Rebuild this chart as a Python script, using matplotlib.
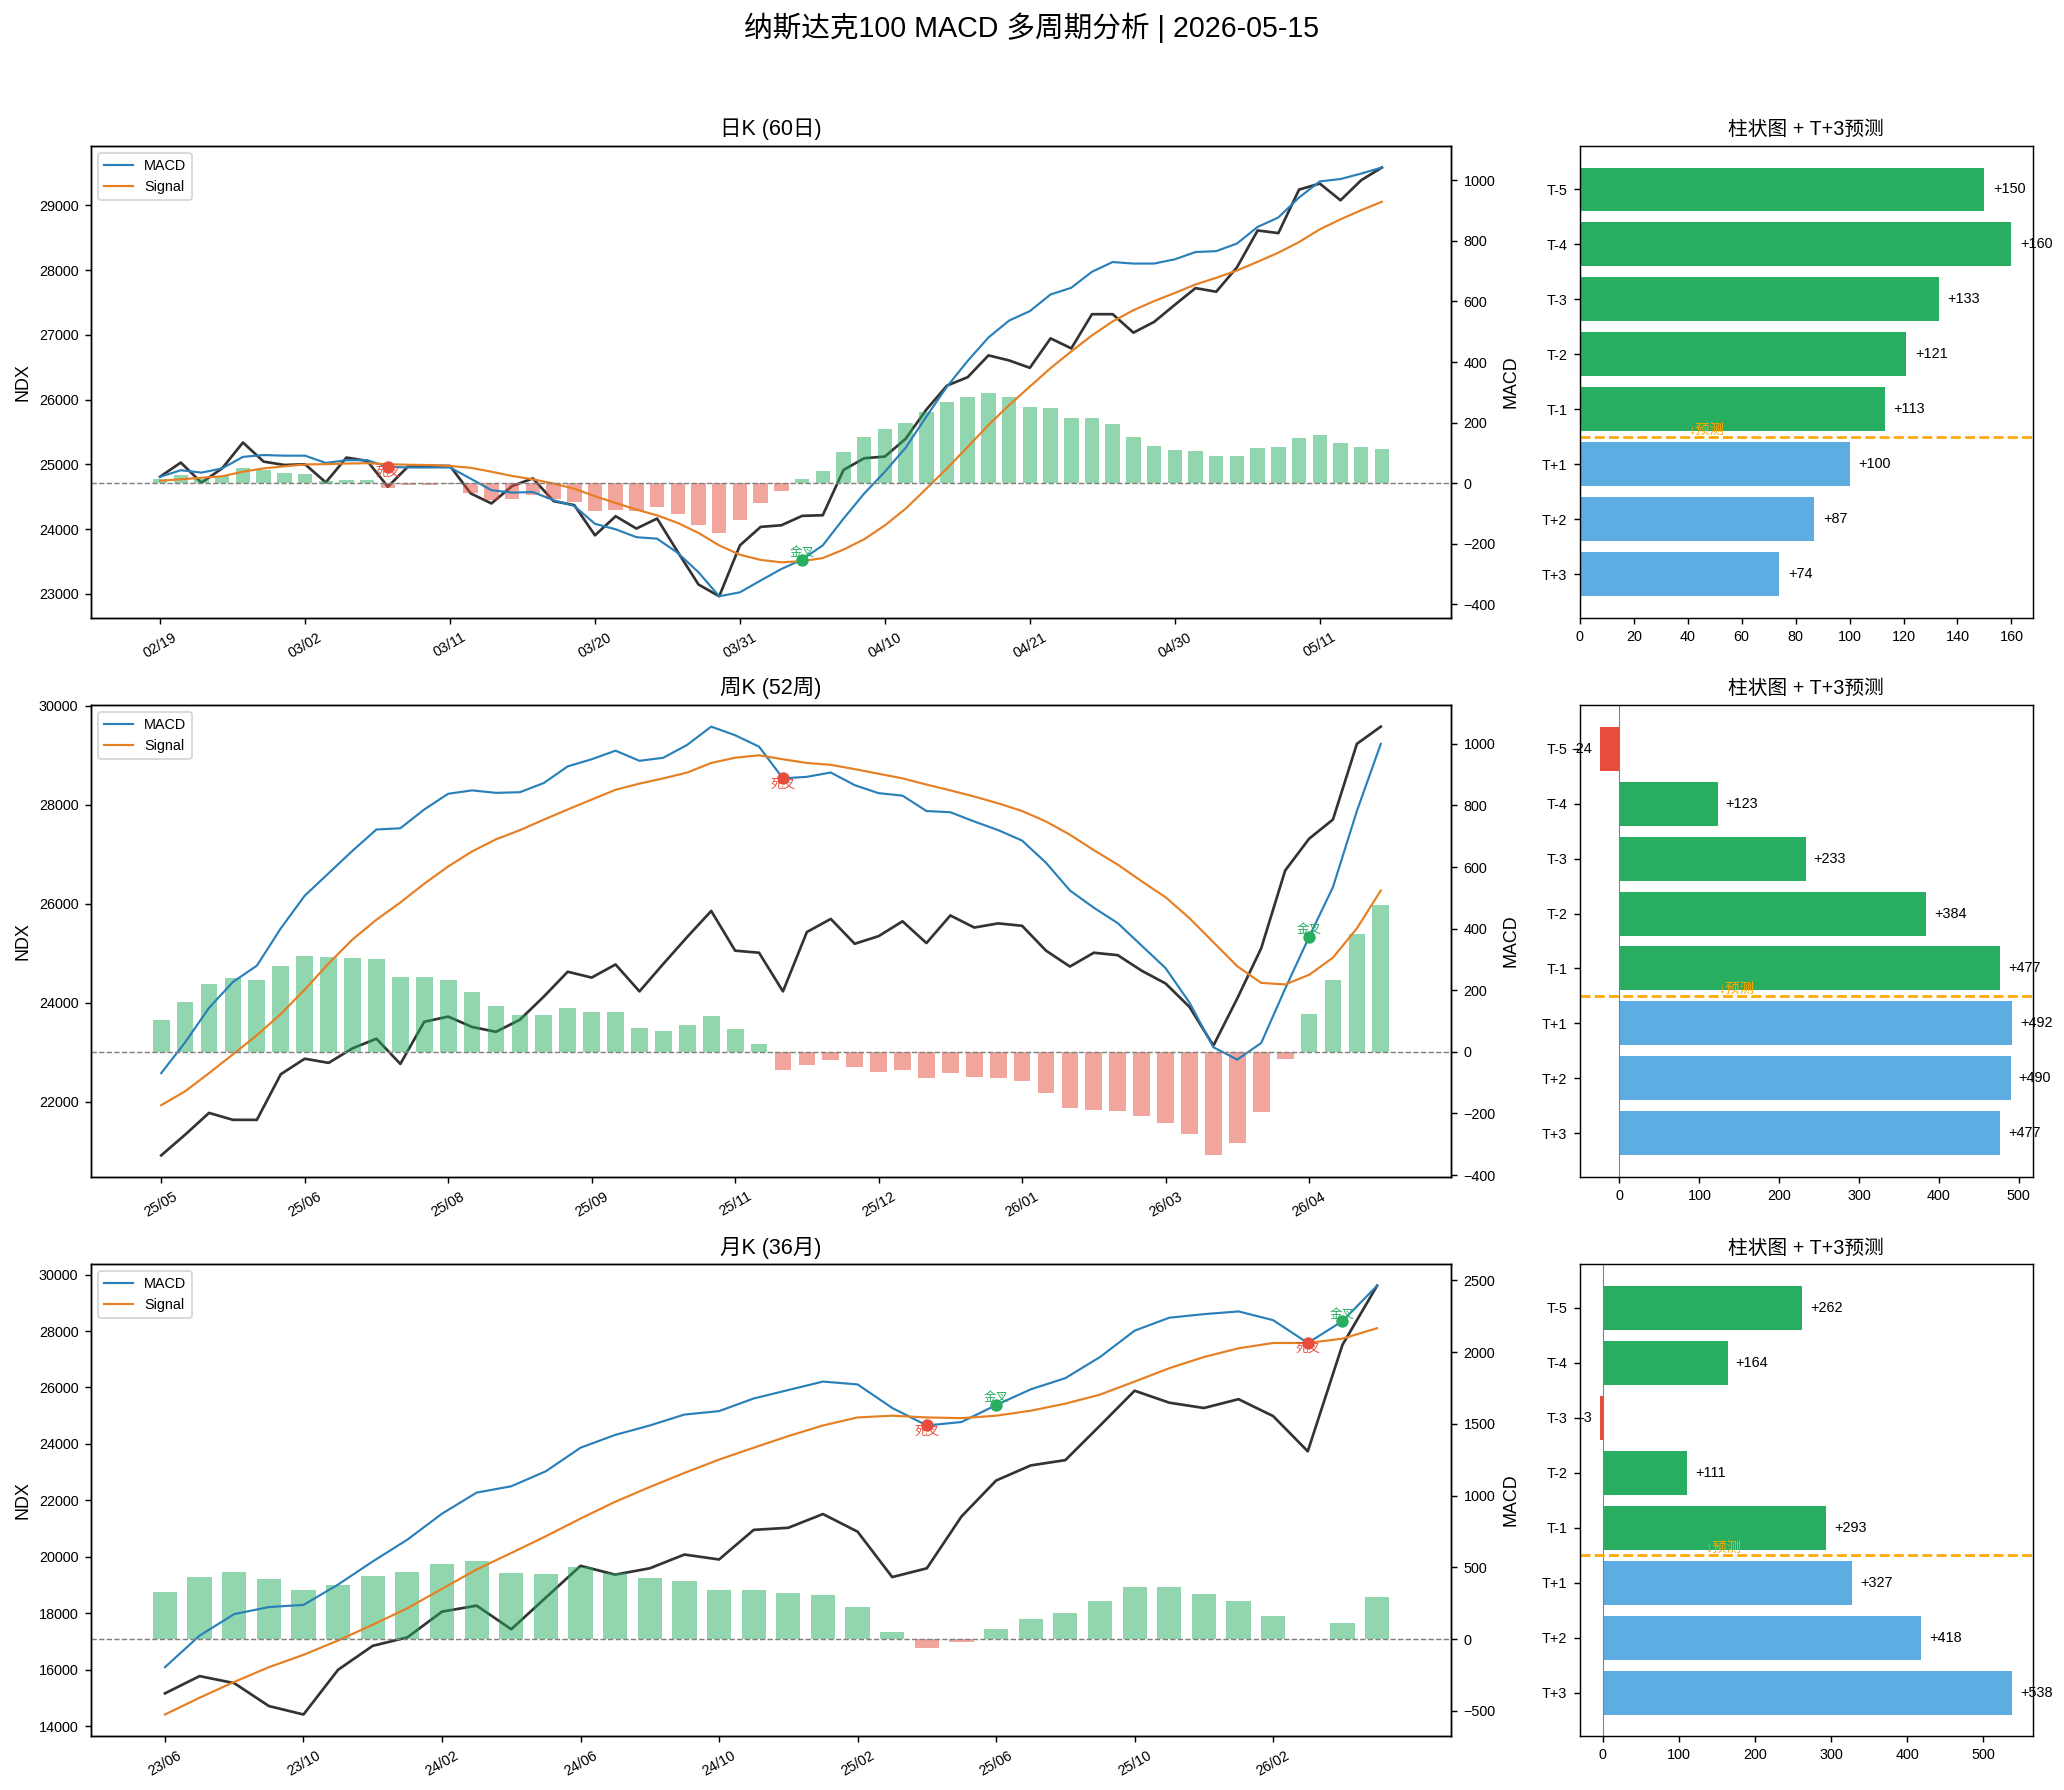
import numpy as np
import matplotlib
matplotlib.use('Agg')
import matplotlib.pyplot as plt

plt.rcParams['font.family'] = ['Liberation Sans', 'Noto Sans CJK SC']

# ---- daily (60 days) ----
daily_ticks = ['02/19', '03/02', '03/11', '03/20', '03/31', '04/10', '04/21', '04/30', '05/11']
daily_ndx = [24810, 25028, 24717, 24940, 25338, 25043, 24991, 25002, 24722, 25105,
             25054, 24655, 24976, 24976, 24976, 24552, 24397, 24666, 24784, 24433,
             24371, 23905, 24200, 24009, 24164, 23647, 23145, 22964, 23750, 24035,
             24060, 24205, 24215, 24914, 25095, 25121, 25395, 25845, 26217, 26347,
             26683, 26605, 26491, 26946, 26791, 27319, 27319, 27034, 27200, 27464,
             27722, 27666, 28043, 28612, 28571, 29243, 29336, 29078, 29388, 29584]
daily_macd = [21, 43, 35, 49, 87, 93, 91, 91, 67, 76,
              76, 54, 52, 52, 52, 15, -23, -31, -29, -56,
              -75, -134, -152, -178, -183, -230, -294, -373, -360, -321,
              -283, -252, -205, -117, -34, 38, 117, 220, 319, 404,
              481, 537, 568, 623, 645, 698, 730, 725, 725, 739,
              763, 766, 791, 846, 877, 943, 996, 1004, 1022, 1042]
daily_signal = [8, 13, 18, 23, 38, 49, 56, 62, 63, 65,
                66, 63, 61, 60, 57, 51, 38, 24, 13, -1,
                -18, -43, -65, -87, -106, -131, -164, -205, -236, -253,
                -261, -257, -247, -219, -185, -139, -84, -18, 49, 120,
                192, 258, 319, 380, 435, 488, 534, 571, 601, 628,
                656, 678, 702, 731, 761, 796, 838, 871, 901, 929]
daily_hist = [13, 27, 15, 23, 51, 45, 34, 29, 7, 10,
              10, -15, -7, -7, -4, -31, -56, -51, -40, -51,
              -62, -92, -87, -92, -79, -100, -137, -164, -121, -64,
              -25, 14, 41, 104, 151, 178, 200, 236, 269, 283,
              299, 286, 252, 247, 216, 214, 196, 153, 124, 110,
              107, 91, 91, 117, 121, 150, 160, 133, 121, 113]
daily_fc = [100, 87, 74]

# ---- weekly (52 weeks) ----
weekly_ticks = ['25/05', '25/06', '25/08', '25/09', '25/11', '25/12', '26/01', '26/03', '26/04']
weekly_ndx = [20919, 21337, 21777, 21637, 21637, 22558, 22872, 22788, 23081, 23276,
              22767, 23618, 23723, 23513, 23416, 23660, 24127, 24629, 24511, 24776,
              24232, 24790, 25334, 25857, 25055, 25013, 24232, 25431, 25696, 25194,
              25348, 25648, 25208, 25766, 25522, 25606, 25557, 25055, 24734, 25013,
              24964, 24650, 24392, 23918, 23137, 24092, 25104, 26673, 27315, 27705,
              29233, 29581]
weekly_macd = [-69, 31, 143, 227, 280, 401, 507, 580, 653, 722,
               726, 787, 838, 849, 841, 843, 873, 927, 950, 978,
               945, 955, 997, 1056, 1028, 991, 888, 893, 907, 866,
               840, 832, 782, 778, 748, 720, 686, 614, 524, 468,
               418, 345, 272, 160, 15, -25, 29, 205, 373, 535,
               782, 1000]
weekly_signal = [-173, -128, -69, -8, 54, 123, 202, 287, 365, 429,
                 485, 546, 602, 651, 690, 720, 754, 787, 819, 851,
                 871, 888, 907, 938, 955, 963, 950, 938, 932, 918,
                 903, 888, 868, 849, 829, 807, 782, 748, 705, 655,
                 608, 554, 502, 434, 356, 278, 224, 219, 250, 306,
                 401, 524]
weekly_hist = [102, 163, 222, 239, 235, 280, 311, 309, 306, 300,
               242, 244, 235, 196, 150, 121, 121, 141, 130, 128,
               76, 69, 88, 118, 73, 27, -60, -44, -25, -50,
               -64, -58, -86, -69, -83, -86, -95, -134, -181, -188,
               -193, -209, -232, -268, -336, -297, -196, -24, 123, 233,
               384, 477]
weekly_fc = [492, 490, 477]

# ---- monthly (36 months) ----
monthly_ticks = ['23/06', '23/10', '24/02', '24/06', '24/10', '25/02', '25/06', '25/10', '26/02']
monthly_ndx = [15161, 15773, 15523, 14712, 14412, 15998, 16846, 17146, 18057, 18270,
               17433, 18557, 19680, 19368, 19593, 20080, 19905, 20954, 21029, 21515,
               20891, 19281, 19593, 21428, 22702, 23238, 23426, 24649, 25885, 25461,
               25273, 25585, 24986, 23738, 27508, 29605]
monthly_macd = [-196, 24, 174, 223, 238, 380, 541, 693, 874, 1021,
                1065, 1170, 1334, 1423, 1489, 1565, 1589, 1677, 1736, 1795,
                1775, 1611, 1489, 1513, 1631, 1741, 1819, 1966, 2150, 2240,
                2265, 2284, 2223, 2064, 2216, 2463]
monthly_signal = [-526, -409, -299, -196, -110, -10, 100, 215, 350, 485,
                  600, 717, 840, 957, 1060, 1158, 1251, 1334, 1415, 1489,
                  1545, 1557, 1545, 1540, 1557, 1592, 1641, 1704, 1795, 1888,
                  1966, 2027, 2064, 2064, 2094, 2167]
monthly_hist = [331, 436, 470, 421, 345, 380, 443, 470, 526, 541,
                463, 455, 500, 460, 428, 402, 345, 345, 323, 304,
                225, 51, -59, -22, 73, 142, 184, 262, 360, 360,
                311, 262, 164, -3, 111, 293]
monthly_fc = [327, 418, 538]

bar_labels = ['T-5', 'T-4', 'T-3', 'T-2', 'T-1', 'T+1', 'T+2', 'T+3']

GREEN = '#27ae60'
RED = '#e74c3c'
BLUE = '#5dade2'


def draw_macd(ax, title, ndx, macd, signal, hist, ticks, step):
    x = np.arange(len(ndx))
    ax.plot(x, ndx, color='#333333', lw=1.5)
    ax.set_ylabel('NDX')
    ax.set_title(title, fontsize=12)

    ax2 = ax.twinx()
    colors = [GREEN if h >= 0 else RED for h in hist]
    ax2.bar(x, hist, width=0.7, color=colors, alpha=0.5)
    ax2.plot(x, macd, color='#2980b9', lw=1.2, label='MACD')
    ax2.plot(x, signal, color='#e67e22', lw=1.2, label='Signal')
    ax2.axhline(0, color='gray', lw=0.8, ls='--')

    # crossovers from histogram sign change
    for i in range(1, len(hist)):
        if hist[i - 1] >= 0 and hist[i] < 0:
            ax2.scatter(i, macd[i], color=RED, s=35, zorder=5)
            ax2.text(i, macd[i], '死叉', color=RED, fontsize=7, ha='center', va='top', zorder=4)
        elif hist[i - 1] < 0 and hist[i] >= 0:
            ax2.scatter(i, macd[i], color=GREEN, s=35, zorder=5)
            ax2.text(i, macd[i], '金叉', color=GREEN, fontsize=7, ha='center', va='bottom', zorder=4)

    ax2.set_ylabel('MACD')
    ax2.legend(loc='upper left', fontsize=8)
    ax.set_xticks(x[::step][:len(ticks)])
    ax.set_xticklabels(ticks, rotation=30)
    ax.tick_params(labelsize=8)
    ax2.tick_params(labelsize=8)


def draw_forecast(ax, hist, fc):
    last = list(hist[-5:])
    vals = last + list(fc)
    colors = [GREEN if v >= 0 else RED for v in last] + [BLUE] * len(fc)
    y = np.arange(len(vals))
    ax.barh(y, vals, color=colors, height=0.8)
    ax.set_yticks(y)
    ax.set_yticklabels(bar_labels)
    ax.invert_yaxis()
    ax.axvline(0, color='gray', lw=0.6)
    ax.axhline(4.5, color='orange', ls='--', lw=1.5)

    m = max(abs(v) for v in vals)
    for yi, v in zip(y, vals):
        if v >= 0:
            ax.text(v + m * 0.02, yi, f'{v:+.0f}', va='center', ha='left', fontsize=8)
        else:
            ax.text(v - m * 0.02, yi, f'{v:+.0f}', va='center', ha='right', fontsize=8)
    ax.text(m * 0.25, 4.5, '↓预测', color='orange', fontsize=8, va='bottom')
    ax.set_title('柱状图 + T+3预测', fontsize=11)
    ax.tick_params(labelsize=8)


fig = plt.figure(figsize=(2064 / 129, 1790 / 129), dpi=129)
gs = fig.add_gridspec(3, 2, width_ratios=[3, 1], left=0.0441, right=0.985,
                      top=0.9184, bottom=0.0302, hspace=0.1855, wspace=0.142)

rows = [
    ('日K (60日)', daily_ndx, daily_macd, daily_signal, daily_hist, daily_fc, daily_ticks, 7),
    ('周K (52周)', weekly_ndx, weekly_macd, weekly_signal, weekly_hist, weekly_fc, weekly_ticks, 6),
    ('月K (36月)', monthly_ndx, monthly_macd, monthly_signal, monthly_hist, monthly_fc, monthly_ticks, 4),
]

for r, (title, ndx, macd, sig, hist, fc, ticks, step) in enumerate(rows):
    draw_macd(fig.add_subplot(gs[r, 0]), title, ndx, macd, sig, hist, ticks, step)
    draw_forecast(fig.add_subplot(gs[r, 1]), hist, fc)

fig.suptitle('纳斯达克100 MACD 多周期分析 | 2026-05-15', fontsize=16, y=0.993)
fig.savefig('out.png', dpi=129)
